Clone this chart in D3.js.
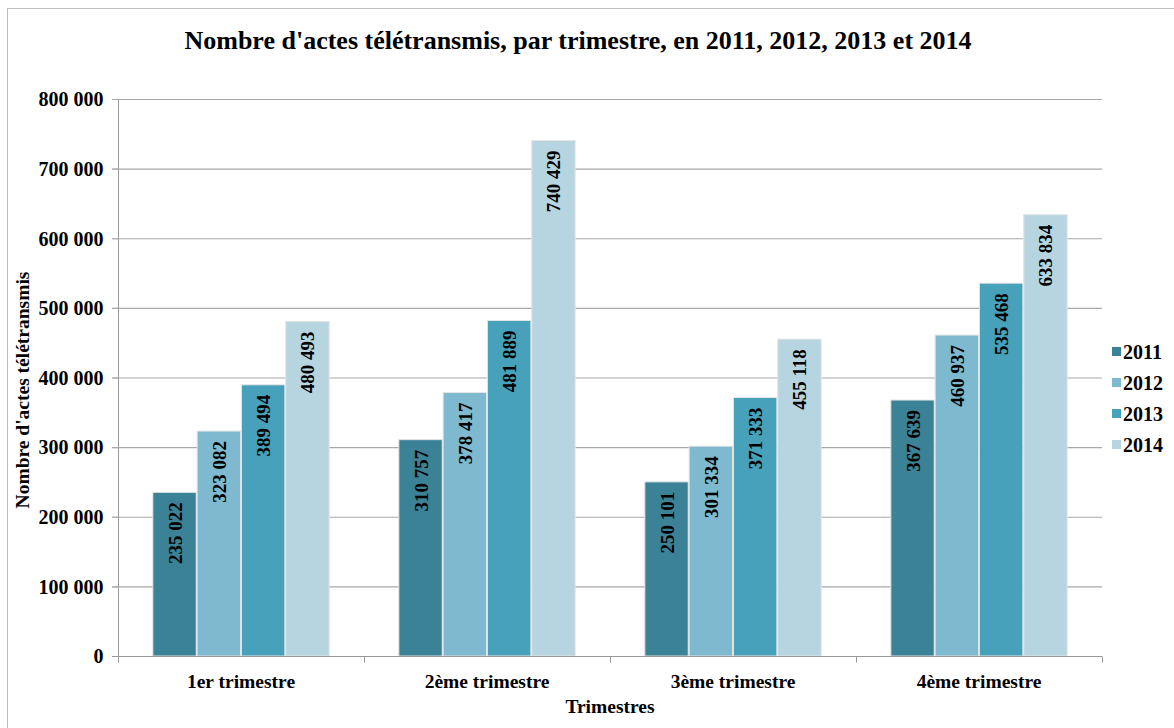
<!DOCTYPE html>
<html>
<head>
<meta charset="utf-8">
<script src="https://cdn.jsdelivr.net/npm/d3@7"></script>
<style>
  body { margin: 0; background: #fff; }
  svg text { font-family: "Liberation Serif", "Times New Roman", serif; font-weight: bold; fill: #000; }
</style>
</head>
<body>
<div id="chart"></div>
<script>
var width = 1174;
var height = 728;

var trimestres = ["1er trimestre", "2ème trimestre", "3ème trimestre", "4ème trimestre"];
var years = ["2011", "2012", "2013", "2014"];
var v2011 = [235022, 310757, 250101, 367639];
var v2012 = [323082, 378417, 301334, 460937];
var v2013 = [389494, 481889, 371333, 535468];
var v2014 = [480493, 740429, 455118, 633834];
var yTicks = [0, 100000, 200000, 300000, 400000, 500000, 600000, 700000, 800000];
var colors = ["#3b8296", "#7eb9cf", "#47a1ba", "#b6d5e0"];

var series = [v2011, v2012, v2013, v2014];
var fr = d3.formatLocale({decimal: ",", thousands: " ", grouping: [3], currency: ["", " €"]});
var fmt = fr.format(",d");

var margin = {left: 118, right: 72, top: 99, bottom: 72};

var svg = d3.select("#chart").append("svg")
  .attr("width", width)
  .attr("height", height);

// outer frame
svg.append("rect")
  .attr("x", 7.5).attr("y", 8.5)
  .attr("width", 1180).attr("height", 740)
  .attr("fill", "none")
  .attr("stroke", "#bdbdbd");

var x0 = d3.scaleBand()
  .domain(trimestres)
  .range([margin.left, width - margin.right])
  .paddingInner(0.276)
  .paddingOuter(0.138);

var x1 = d3.scaleBand()
  .domain(years)
  .range([0, x0.bandwidth()])
  .padding(0.02);

var y = d3.scaleLinear()
  .domain([0, 800000])
  .range([height - margin.bottom, margin.top]);

// grid lines
svg.append("g")
  .selectAll("line")
  .data(yTicks.slice(1))
  .enter().append("line")
  .attr("x1", margin.left - 6)
  .attr("x2", width - margin.right)
  .attr("y1", d => y(d) + 0.5)
  .attr("y2", d => y(d) + 0.5)
  .attr("stroke", "#a8a8a8")
  .attr("stroke-width", 1.2);

// y axis
var yAxis = svg.append("g")
  .attr("transform", "translate(" + (margin.left + 0.5) + ",0)")
  .call(d3.axisLeft(y).tickValues(yTicks).tickFormat(fmt).tickSize(6).tickPadding(9));
yAxis.selectAll("text").style("font-size", "20px").attr("dy", "0.34em");
yAxis.select(".domain").attr("stroke", "#999").attr("d", "M0," + (margin.top) + "V" + (height - margin.bottom));
yAxis.selectAll(".tick line").attr("stroke", "#a8a8a8");

// bars
var groups = svg.append("g")
  .selectAll("g")
  .data(trimestres)
  .enter().append("g")
  .attr("transform", d => "translate(" + x0(d) + ",0)");

groups.selectAll("rect")
  .data((d, i) => years.map((yr, j) => ({year: yr, value: series[j][i], idx: j})))
  .enter().append("rect")
  .attr("x", d => x1(d.year))
  .attr("y", d => y(d.value))
  .attr("width", x1.bandwidth())
  .attr("height", d => y(0) - y(d.value))
  .attr("fill", (d) => colors[d.idx])
  .attr("stroke", "#e4e4e4")
  .attr("stroke-width", 1);

groups.selectAll("text")
  .data((d, i) => years.map((yr, j) => ({year: yr, value: series[j][i]})))
  .enter().append("text")
  .attr("transform", d => "translate(" + (x1(d.year) + x1.bandwidth() / 2 + 7) + "," + (y(d.value) + 10) + ") rotate(-90)")
  .attr("text-anchor", "end")
  .style("font-size", "19px")
  .text(d => fmt(d.value));

// x axis
var xAxis = svg.append("g")
  .attr("transform", "translate(0," + (y(0) + 0.5) + ")");
xAxis.append("line")
  .attr("x1", margin.left - 6).attr("x2", width - margin.right)
  .attr("stroke", "#999");
var bounds = trimestres.map(t => x0(t) - x0.step() * x0.paddingInner() / 2);
bounds.push(width - margin.right);
xAxis.selectAll(".tk")
  .data(bounds)
  .enter().append("line")
  .attr("class", "tk")
  .attr("x1", d => d + 0.5).attr("x2", d => d + 0.5)
  .attr("y1", 0).attr("y2", 6)
  .attr("stroke", "#999");
xAxis.selectAll("text")
  .data(trimestres)
  .enter().append("text")
  .attr("x", d => x0(d) + x0.bandwidth() / 2)
  .attr("y", 31)
  .attr("text-anchor", "middle")
  .style("font-size", "19.5px")
  .text(d => d);

// axis titles
svg.append("text")
  .attr("x", (margin.left + width - margin.right) / 2)
  .attr("y", 713)
  .attr("text-anchor", "middle")
  .style("font-size", "19.5px")
  .text("Trimestres");

svg.append("text")
  .attr("transform", "translate(29," + 390 + ") rotate(-90)")
  .attr("text-anchor", "middle")
  .style("font-size", "19.5px")
  .text("Nombre d'actes télétransmis");

// title
svg.append("text")
  .attr("x", 578)
  .attr("y", 49)
  .attr("text-anchor", "middle")
  .style("font-size", "26px")
  .text("Nombre d'actes télétransmis, par trimestre, en 2011, 2012, 2013 et 2014");

// legend
var legend = svg.append("g")
  .selectAll("g")
  .data(years)
  .enter().append("g")
  .attr("transform", (d, i) => "translate(1112," + (352 + i * 31) + ")");
legend.append("rect")
  .attr("x", 0).attr("y", -5)
  .attr("width", 9).attr("height", 9)
  .attr("fill", (d, i) => colors[i]);
legend.append("text")
  .attr("x", 11)
  .attr("y", 7)
  .style("font-size", "20px")
  .text(d => d);
</script>
</body>
</html>
